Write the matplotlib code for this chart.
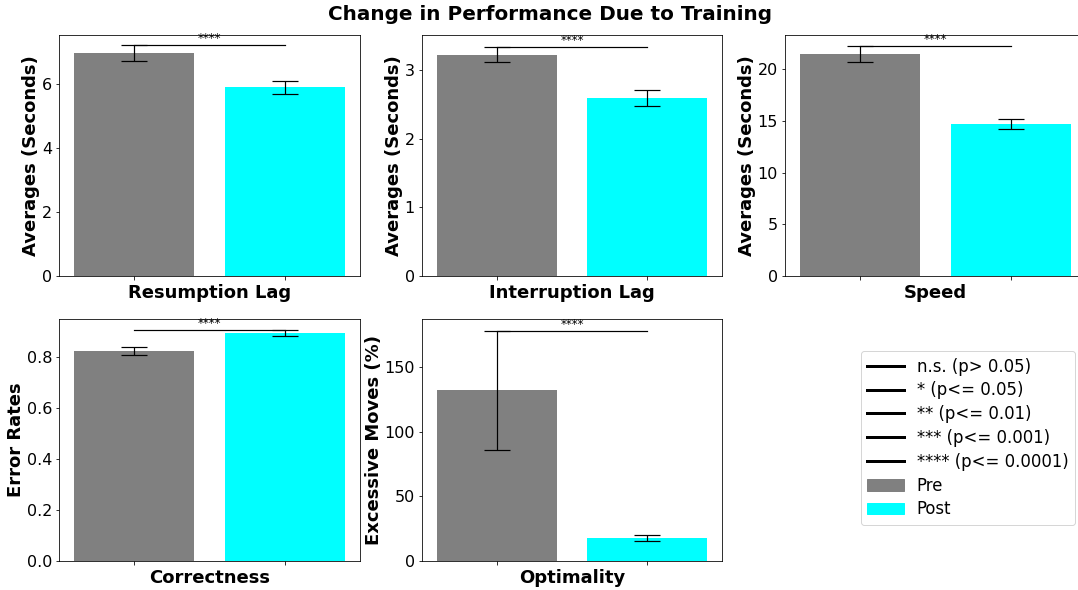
import matplotlib
matplotlib.use("Agg")
import matplotlib.pyplot as plt
from matplotlib.lines import Line2D
from matplotlib.patches import Patch

categories = ["Resumption Lag", "Interruption Lag", "Speed", "Correctness", "Optimality"]
ylabels = ["Averages (Seconds)", "Averages (Seconds)", "Averages (Seconds)", "Error Rates", "Excessive Moves (%)"]
pre_means = [6.97, 3.22, 21.45, 0.824, 132.0]
pre_errs = [0.25, 0.11, 0.8, 0.015, 46.0]
post_means = [5.9, 2.59, 14.7, 0.894, 17.8]
post_errs = [0.2, 0.12, 0.45, 0.012, 2.3]
sig_labels = ["****", "****", "****", "****", "****"]
ylims = [7.53, 3.51, 23.3, 0.949, 187.0]
yticks = [[0, 2, 4, 6], [0, 1, 2, 3], [0, 5, 10, 15, 20], [0.0, 0.2, 0.4, 0.6, 0.8], [0, 50, 100, 150]]
legend_labels = ["n.s. (p> 0.05)", "* (p<= 0.05)", "** (p<= 0.01)", "*** (p<= 0.001)", "**** (p<= 0.0001)"]
groups = ["Pre", "Post"]
colors = ["gray", "cyan"]

DPI = 72
W, H = 1078, 590
fig = plt.figure(figsize=(W / DPI, H / DPI), dpi=DPI)

# pixel boxes (left, top, right, bottom)
boxes = [(59, 35, 360, 276), (422, 35, 722, 276), (785, 35, 1086, 276),
         (59, 319, 360, 561), (422, 319, 722, 561)]

for i, cat in enumerate(categories):
    l, t, r, b = boxes[i]
    ax = fig.add_axes([l / W, (H - b) / H, (r - l) / W, (b - t) / H])
    means = [pre_means[i], post_means[i]]
    errs = [pre_errs[i], post_errs[i]]
    ax.bar([0, 1], means, width=0.8, color=colors, yerr=errs, capsize=13,
           error_kw=dict(elinewidth=1.2, capthick=1.2, ecolor="black"))
    ax.set_xlim(-0.5, 1.5)
    ax.set_ylim(0, ylims[i])
    ax.set_xticks([0, 1])
    ax.set_xticklabels(["", ""])
    ax.set_yticks(yticks[i])
    ax.tick_params(axis="y", labelsize=16)
    ax.set_xlabel(cat, fontsize=18, fontweight="bold", labelpad=1)
    ax.set_ylabel(ylabels[i], fontsize=18, fontweight="bold", labelpad=1.5)
    top = max(pre_means[i] + pre_errs[i], post_means[i] + post_errs[i])
    ax.plot([0, 1], [top, top], color="black", lw=1.2)
    ax.text(0.5, top, sig_labels[i], ha="center", va="bottom", fontsize=12)

handles = [Line2D([0], [0], color="black", lw=3) for _ in legend_labels]
handles += [Patch(color=c) for c in colors]
fig.legend(handles, legend_labels + groups, loc="center",
           bbox_to_anchor=(968 / W, (H - 438) / H), fontsize=16.5,
           handlelength=2.2, labelspacing=0.35)

fig.suptitle("Change in Performance Due to Training", fontsize=20, fontweight="bold",
             x=550 / W, y=1 - 14 / H, va="center")

fig.savefig("out.png", dpi=DPI)
